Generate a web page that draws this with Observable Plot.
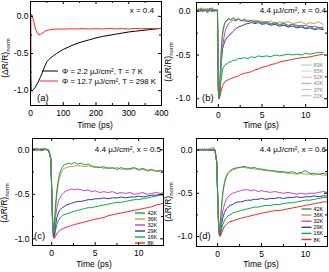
<!DOCTYPE html>
<html><head><meta charset="utf-8">
<script src="https://cdn.jsdelivr.net/npm/d3@7"></script>
<script src="https://cdn.jsdelivr.net/npm/@observablehq/plot@0.6"></script>
<style>
body{margin:0;background:#fff;}
#wrap{position:relative;width:329px;height:272px;overflow:hidden;}
.p{position:absolute;}
svg{font-family:"Liberation Sans",Arial,sans-serif;}
</style>
</head><body><div id="wrap"></div>
<script>
// ---------- Panel (a) ----------
const tA_black = [0,0.5,2,6,10,15,20,25,30,35,40,45,50,55,60,70,80,90,100,115,130,145,160,180,200,220,240,260,280,300,320,340,360,380,400];
const a_black = [0,-0.7,-1.0,-1.0,-0.98,-0.95,-0.91,-0.87,-0.82,-0.77,-0.71,-0.66,-0.61,-0.585,-0.565,-0.53,-0.5,-0.47,-0.445,-0.415,-0.385,-0.36,-0.34,-0.315,-0.29,-0.27,-0.255,-0.24,-0.225,-0.21,-0.2,-0.19,-0.18,-0.17,-0.16];
const tA_red = [0,0.6,1.2,2,4,7,10,13,16,20,25,30,35,40,45,50,60,70,80,100,120,140,160,180,200,220,240,260,280,300,320,340,360,380,400];
const a_red = [0,-0.72,0.0,0.03,0.02,-0.02,-0.07,-0.13,-0.18,-0.22,-0.25,-0.245,-0.23,-0.215,-0.2,-0.19,-0.18,-0.175,-0.17,-0.172,-0.168,-0.17,-0.165,-0.17,-0.166,-0.17,-0.164,-0.168,-0.165,-0.17,-0.163,-0.167,-0.164,-0.166,-0.162];
const a_legend = ["Φ = 2.2 μJ/cm², T = 7 K", "Φ = 12.7 μJ/cm², T = 298 K"];

// ---------- Panel (b) ----------
const tB = [-2.5,-2.25,-2,-1.75,-1.5,-1.25,-1,-0.75,-0.5,-0.25,-0.1,0,0.1,0.2,0.3,0.4,0.5,0.65,0.8,1,1.2,1.4,1.7,2,2.3,2.6,3,3.4,3.8,4.2,4.6,5,5.5,6,6.5,7,7.5,8,8.5,9,9.5,10,10.5,11,11.5,12];
const b89 = [0.02,-0.01,0.03,0.0,0.03,-0.02,0.02,0.04,0.0,0.02, 0.01,-0.85,-1.0,-0.75,-0.5,-0.33,-0.23,-0.16,-0.12,-0.1, -0.08,-0.1,-0.07,-0.1,-0.08,-0.11,-0.09,-0.12,-0.1,-0.13, -0.11,-0.14,-0.12,-0.15,-0.13,-0.16,-0.14,-0.17,-0.15,-0.18, -0.16,-0.19,-0.17,-0.2,-0.18,-0.2];
const b65 = [0.03,0.01,0.04,0.02,0.0,0.03,0.01,0.03,0.02,0.0, 0.02,-0.8,-0.98,-0.8,-0.55,-0.38,-0.27,-0.18,-0.13,-0.11, -0.09,-0.1,-0.08,-0.11,-0.09,-0.1,-0.12,-0.1,-0.11,-0.1, -0.12,-0.11,-0.13,-0.11,-0.14,-0.12,-0.13,-0.12,-0.14,-0.13, -0.12,-0.15,-0.13,-0.14,-0.12,-0.15];
const b52 = [0.01,0.02,0.0,0.03,0.01,0.02,0.0,0.02,0.01,0.02, 0.0,-0.88,-1.0,-0.86,-0.66,-0.5,-0.4,-0.3,-0.22,-0.17, -0.14,-0.12,-0.1,-0.11,-0.09,-0.11,-0.1,-0.12,-0.11,-0.12, -0.11,-0.13,-0.12,-0.14,-0.13,-0.15,-0.14,-0.16,-0.15,-0.16, -0.17,-0.16,-0.18,-0.17,-0.19,-0.18];
const b42 = [0.0,0.02,0.01,0.0,0.02,0.01,0.03,0.0,0.01,0.02, 0.0,-0.9,-1.0,-0.85,-0.65,-0.5,-0.42,-0.37,-0.33,-0.3, -0.28,-0.26,-0.23,-0.2,-0.18,-0.17,-0.15,-0.14,-0.13,-0.14, -0.13,-0.15,-0.14,-0.16,-0.15,-0.17,-0.16,-0.18,-0.17,-0.19, -0.18,-0.2,-0.19,-0.21,-0.2,-0.21];
const b37 = [0.01,0.03,0.0,0.02,0.01,0.03,0.02,0.0,0.02,0.01, 0.0,-0.9,-1.0,-0.92,-0.8,-0.72,-0.66,-0.63,-0.61,-0.6, -0.58,-0.58,-0.56,-0.56,-0.54,-0.54,-0.53,-0.54,-0.52,-0.53, -0.51,-0.52,-0.51,-0.52,-0.5,-0.51,-0.5,-0.49,-0.5,-0.49, -0.5,-0.48,-0.49,-0.48,-0.47,-0.47];
const b22 = [0.0,0.01,0.02,0.0,0.01,0.0,0.02,0.01,0.0,0.01, 0.0,-0.92,-1.0,-0.97,-0.92,-0.88,-0.85,-0.82,-0.8,-0.79, -0.78,-0.77,-0.76,-0.75,-0.74,-0.72,-0.71,-0.7,-0.69,-0.67, -0.66,-0.64,-0.63,-0.61,-0.6,-0.58,-0.57,-0.56,-0.55,-0.54, -0.53,-0.53,-0.52,-0.51,-0.5,-0.49];
const b_labels = ["89K","65K","52K","42K","37K","22K"];

// ---------- Panels (c) and (d) ----------
const tCD = [-2.4,-2,-1.75,-1.5,-1.25,-1,-0.75,-0.5,-0.3,-0.1,0,0.1,0.2,0.3,0.45,0.6,0.8,1,1.2,1.4,1.7,2,2.3,2.6,3,3.4,3.8,4.2,4.6,5,5.5,6,6.5,7,7.5,8,8.5,9,9.5,10,10.5,11,11.5,12,12.5,12.9];
const c42 = [0.0,0.01,-0.01,0.01,0.0,-0.01,0.01,0.0,-0.02,-0.1, -0.4,-0.75,-0.93,-0.85,-0.62,-0.45,-0.32,-0.24,-0.2,-0.17, -0.16,-0.15,-0.16,-0.14,-0.16,-0.15,-0.17,-0.16,-0.18,-0.19, -0.2,-0.19,-0.21,-0.2,-0.22,-0.2,-0.22,-0.21,-0.2,-0.22, -0.21,-0.23,-0.22,-0.24,-0.23,-0.24];
const c36 = [0.01,0.0,0.02,0.0,0.01,0.02,0.0,0.01,0.0,-0.08, -0.38,-0.72,-0.92,-0.87,-0.66,-0.5,-0.36,-0.28,-0.24,-0.21, -0.2,-0.19,-0.19,-0.18,-0.18,-0.18,-0.19,-0.18,-0.19,-0.2, -0.19,-0.21,-0.2,-0.21,-0.2,-0.22,-0.21,-0.22,-0.21,-0.23, -0.22,-0.24,-0.23,-0.24,-0.25,-0.25];
const c32 = [0.0,0.01,0.0,0.01,-0.01,0.0,0.01,0.0,-0.02,-0.1, -0.42,-0.78,-0.95,-0.9,-0.75,-0.65,-0.57,-0.53,-0.5,-0.48, -0.46,-0.45,-0.44,-0.45,-0.44,-0.45,-0.46,-0.45,-0.47,-0.46, -0.48,-0.47,-0.48,-0.47,-0.49,-0.48,-0.49,-0.48,-0.5,-0.49, -0.48,-0.5,-0.49,-0.48,-0.49,-0.48];
const c29 = [0.01,0.0,0.01,0.0,0.0,0.01,0.0,0.0,-0.02,-0.1, -0.42,-0.8,-0.96,-0.97,-0.85,-0.76,-0.7,-0.67,-0.65,-0.64, -0.62,-0.61,-0.6,-0.59,-0.58,-0.58,-0.57,-0.56,-0.56,-0.55, -0.55,-0.54,-0.55,-0.54,-0.54,-0.53,-0.54,-0.53,-0.53,-0.52, -0.53,-0.52,-0.51,-0.51,-0.5,-0.5];
const c16 = [0.0,0.01,0.0,0.0,0.01,0.0,0.01,0.0,-0.02,-0.1, -0.43,-0.8,-0.97,-0.98,-0.9,-0.84,-0.79,-0.76,-0.74,-0.73, -0.72,-0.71,-0.7,-0.69,-0.68,-0.67,-0.66,-0.65,-0.65,-0.64, -0.63,-0.62,-0.61,-0.6,-0.59,-0.59,-0.58,-0.57,-0.56,-0.56, -0.55,-0.54,-0.53,-0.52,-0.51,-0.51];
const c8 = [0.0,0.0,0.01,0.0,0.0,0.0,0.01,0.0,-0.02,-0.1, -0.45,-0.82,-0.98,-1.0,-0.97,-0.94,-0.92,-0.9,-0.89,-0.88, -0.87,-0.86,-0.85,-0.84,-0.83,-0.82,-0.81,-0.8,-0.79,-0.78, -0.77,-0.76,-0.74,-0.73,-0.72,-0.71,-0.7,-0.69,-0.68,-0.67, -0.66,-0.65,-0.64,-0.62,-0.61,-0.6];
const d42 = [0.0,0.0,0.01,0.0,0.01,0.0,0.0,0.01,0.0,-0.15, -0.5,-0.8,-0.95,-0.85,-0.65,-0.48,-0.36,-0.3,-0.26,-0.24, -0.22,-0.21,-0.2,-0.2,-0.19,-0.2,-0.21,-0.2,-0.22,-0.22, -0.23,-0.24,-0.24,-0.25,-0.25,-0.26,-0.25,-0.27,-0.26,-0.24, -0.27,-0.27,-0.28,-0.27,-0.28,-0.28];
const d36 = [0.0,0.01,0.0,0.01,0.0,0.01,0.02,0.03,0.01,-0.12, -0.48,-0.8,-0.96,-0.86,-0.66,-0.5,-0.38,-0.31,-0.27,-0.25, -0.23,-0.22,-0.21,-0.2,-0.2,-0.21,-0.21,-0.22,-0.22,-0.23, -0.24,-0.24,-0.25,-0.26,-0.26,-0.27,-0.27,-0.28,-0.27,-0.28, -0.28,-0.29,-0.28,-0.29,-0.29,-0.29];
const d32 = [0.0,0.0,0.01,0.0,0.0,0.01,0.0,0.01,0.0,-0.14, -0.5,-0.82,-0.97,-0.92,-0.8,-0.7,-0.62,-0.57,-0.54,-0.52, -0.5,-0.49,-0.48,-0.47,-0.46,-0.46,-0.47,-0.46,-0.48,-0.47, -0.48,-0.49,-0.48,-0.49,-0.5,-0.49,-0.5,-0.51,-0.5,-0.51, -0.5,-0.5,-0.49,-0.48,-0.49,-0.48];
const d29 = [0.0,0.01,0.0,0.0,0.01,0.0,0.0,0.0,0.0,-0.14, -0.5,-0.83,-0.98,-0.97,-0.86,-0.78,-0.72,-0.68,-0.66,-0.64, -0.63,-0.61,-0.6,-0.6,-0.59,-0.58,-0.58,-0.57,-0.57,-0.56, -0.57,-0.56,-0.56,-0.55,-0.56,-0.55,-0.55,-0.54,-0.55,-0.54, -0.54,-0.53,-0.54,-0.53,-0.53,-0.52];
const d16 = [0.0,0.0,0.01,0.0,0.0,0.0,0.01,0.0,0.0,-0.14, -0.5,-0.84,-0.98,-0.99,-0.92,-0.86,-0.81,-0.78,-0.76,-0.75, -0.73,-0.72,-0.71,-0.7,-0.69,-0.68,-0.67,-0.66,-0.66,-0.65, -0.64,-0.64,-0.63,-0.63,-0.62,-0.61,-0.61,-0.6,-0.59,-0.58, -0.58,-0.57,-0.56,-0.55,-0.55,-0.54];
const d8 = [0.0,0.0,0.0,0.01,0.0,0.0,0.0,0.0,0.0,-0.14, -0.5,-0.85,-0.99,-1.0,-0.96,-0.92,-0.88,-0.86,-0.84,-0.83, -0.82,-0.81,-0.8,-0.79,-0.78,-0.77,-0.76,-0.75,-0.74,-0.73, -0.72,-0.71,-0.7,-0.7,-0.69,-0.68,-0.67,-0.66,-0.65,-0.64, -0.63,-0.62,-0.61,-0.6,-0.6,-0.59];
const cd_labels = ["42K","36K","32K","29K","16K","8K"];

// tick values
const aXMajor = [0,100,200,300,400], aXMinor = [50,150,250,350];
const psXMajor = [0,5,10], psXMinor = [2.5,7.5];
const yMajor = [-1,-0.5,0], yMinor = [-0.75,-0.25];

// colours
const GREEN1 = "#23994f", OLIVE = "#b3a445", MAGENTA = "#cc3fcc", BLUE = "#3535a8", GREEN2 = "#00b33c", RED = "#ff2424";
const sixColors = [GREEN1, OLIVE, MAGENTA, BLUE, GREEN2, RED];

const wrap = d3.select("#wrap");

function makePanel(cfg) {
  const fw = cfg.width - cfg.ml - cfg.mr, fh = cfg.height - cfg.mt - cfg.mb;
  const marks = [];
  cfg.series.forEach(s => {
    const data = s.t.map((t, i) => ({t, v: s.v[i]}));
    marks.push(Plot.line(data, {x: "t", y: "v", stroke: s.color, strokeWidth: 1, clip: true}));
  });
  marks.push(Plot.frame({stroke: "#000", strokeWidth: 1}));
  marks.push(Plot.tickX(cfg.xMajor, {x: d => d, insetTop: fh - 3, stroke: "#000"}));
  marks.push(Plot.tickX(cfg.xMajor, {x: d => d, insetBottom: fh - 3, stroke: "#000"}));
  marks.push(Plot.tickX(cfg.xMinor, {x: d => d, insetTop: fh - 2, stroke: "#000"}));
  marks.push(Plot.tickX(cfg.xMinor, {x: d => d, insetBottom: fh - 2, stroke: "#000"}));
  marks.push(Plot.tickY(yMajor, {y: d => d, insetRight: fw - 3, stroke: "#000"}));
  marks.push(Plot.tickY(yMajor, {y: d => d, insetLeft: fw - 3, stroke: "#000"}));
  marks.push(Plot.tickY(yMinor, {y: d => d, insetRight: fw - 2, stroke: "#000"}));
  marks.push(Plot.tickY(yMinor, {y: d => d, insetLeft: fw - 2, stroke: "#000"}));
  marks.push(Plot.axisX(cfg.xMajor, {tickSize: 0, tickPadding: cfg.xPad, tickFormat: d => String(d), label: null}));
  marks.push(Plot.axisY(yMajor, {tickSize: 0, tickPadding: cfg.yPad, tickFormat: d => d.toFixed(1), label: null}));
  const svg = Plot.plot({
    width: cfg.width, height: cfg.height,
    marginLeft: cfg.ml, marginRight: cfg.mr, marginTop: cfg.mt, marginBottom: cfg.mb,
    x: {domain: cfg.xDomain}, y: {domain: cfg.yDomain},
    style: {fontFamily: '"Liberation Sans", Arial, sans-serif', fontSize: "8.5px", color: "#000", background: "transparent", overflow: "visible"},
    marks
  });
  const s = d3.select(svg);
  const txt = (x, y, size, anchor) => s.append("text").attr("x", x).attr("y", y)
    .attr("text-anchor", anchor).attr("font-size", size).attr("fill", "#000");
  // y label with subscript
  const yl = s.append("text").attr("transform", `translate(${cfg.yLab[0]},${cfg.yLab[1]}) rotate(-90)`)
    .attr("text-anchor", "middle").attr("font-size", "8.5px").attr("fill", "#000");
  yl.append("tspan").text("(ΔR/R)");
  yl.append("tspan").attr("font-size", "6px").attr("dy", "2").text("norm");
  txt(cfg.xLab[0], cfg.xLab[1], "8.5px", "middle").text("Time (ps)");
  txt(cfg.note[0], cfg.note[1], "8px", "end").text(cfg.noteText);
  txt(cfg.letter[0], cfg.letter[1], "9.5px", "start").text(cfg.letterText);
  if (cfg.legend) cfg.legend(s, txt);
  const div = wrap.append("div").attr("class", "p").style("left", cfg.left + "px").style("top", cfg.top + "px");
  div.node().appendChild(svg);
}

// Panel (a)
makePanel({
  left: 0, top: 0, width: 164, height: 136, ml: 30, mr: 3, mt: 1, mb: 31,
  xDomain: [0, 400], yDomain: [-1.2, 0.2], xMajor: aXMajor, xMinor: aXMinor, xPad: 4, yPad: 2,
  series: [{t: tA_black, v: a_black, color: "#000"}, {t: tA_red, v: a_red, color: RED}],
  yLab: [8, 58], xLab: [95, 128], note: [154, 13], noteText: "x = 0.4", letter: [37, 101], letterText: "(a)",
  legend: (s, txt) => {
    const rows = [{y: 71, x1: 42, c: "#000"}, {y: 81, x1: 40, c: RED}];
    rows.forEach((r, i) => {
      s.append("line").attr("x1", r.x1).attr("x2", 58).attr("y1", r.y).attr("y2", r.y).attr("stroke", r.c).attr("stroke-width", 1);
      txt(62, r.y + 3, "7.8px", "start").text(a_legend[i]);
    });
  }
});

// Panel (b)
makePanel({
  left: 164, top: 0, width: 165, height: 136, ml: 32, mr: 2, mt: 2, mb: 29,
  xDomain: [-2.5, 12.5], yDomain: [-1.1, 0.1], xMajor: psXMajor, xMinor: psXMinor, xPad: 4, yPad: 6,
  series: [b22, b37, b42, b52, b65, b89].map((v, i) => ({t: tB, v, color: sixColors[5 - i]})),
  yLab: [7, 62], xLab: [97, 128], note: [162, 13], noteText: "4.4 μJ/cm², x = 0.4", letter: [38, 101], letterText: "(b)",
  legend: (s, txt) => {
    b_labels.forEach((lab, i) => {
      const y = 65 + 6.15 * i;
      s.append("line").attr("x1", 137.5).attr("x2", 147.5).attr("y1", y).attr("y2", y).attr("stroke", sixColors[i]).attr("stroke-opacity", 0.4).attr("stroke-width", 1.2);
      txt(149.5, y + 2, "5.5px", "start").attr("fill", "#888").text(lab);
    });
  }
});

// Panel (c)
makePanel({
  left: 0, top: 136, width: 164, height: 136, ml: 32, mr: 1, mt: 2, mb: 27,
  xDomain: [-2.2, 12.85], yDomain: [-1.075, 0.127], xMajor: psXMajor, xMinor: psXMinor, xPad: 4, yPad: 3,
  series: [c8, c16, c29, c32, c36, c42].map((v, i) => ({t: tCD, v, color: sixColors[5 - i]})),
  yLab: [7, 67], xLab: [94, 131], note: [161, 16], noteText: "4.4 μJ/cm², x = 0.5", letter: [34, 103], letterText: "(c)",
  legend: (s, txt) => {
    cd_labels.forEach((lab, i) => {
      const y = 77 + 6 * i;
      s.append("line").attr("x1", 135).attr("x2", 145).attr("y1", y).attr("y2", y).attr("stroke", sixColors[i]).attr("stroke-width", 1.4);
      txt(147.5, y + 2, "5.5px", "start").text(lab);
    });
  }
});

// Panel (d)
makePanel({
  left: 164, top: 136, width: 165, height: 136, ml: 32, mr: 2, mt: 2, mb: 26,
  xDomain: [-2.4, 12.5], yDomain: [-1.115, 0.133], xMajor: psXMajor, xMinor: psXMinor, xPad: 4, yPad: 4,
  series: [d8, d16, d29, d32, d36, d42].map((v, i) => ({t: tCD, v, color: sixColors[5 - i]})),
  yLab: [7, 66], xLab: [97, 131], note: [162, 16], noteText: "4.4 μJ/cm², x = 0.6", letter: [35, 103], letterText: "(d)",
  legend: (s, txt) => {
    cd_labels.forEach((lab, i) => {
      const y = 73 + 6.1 * i;
      s.append("line").attr("x1", 137.5).attr("x2", 147.5).attr("y1", y).attr("y2", y).attr("stroke", sixColors[i]).attr("stroke-width", 1.4);
      txt(149.5, y + 2, "5.5px", "start").text(lab);
    });
  }
});
</script>
</body></html>
